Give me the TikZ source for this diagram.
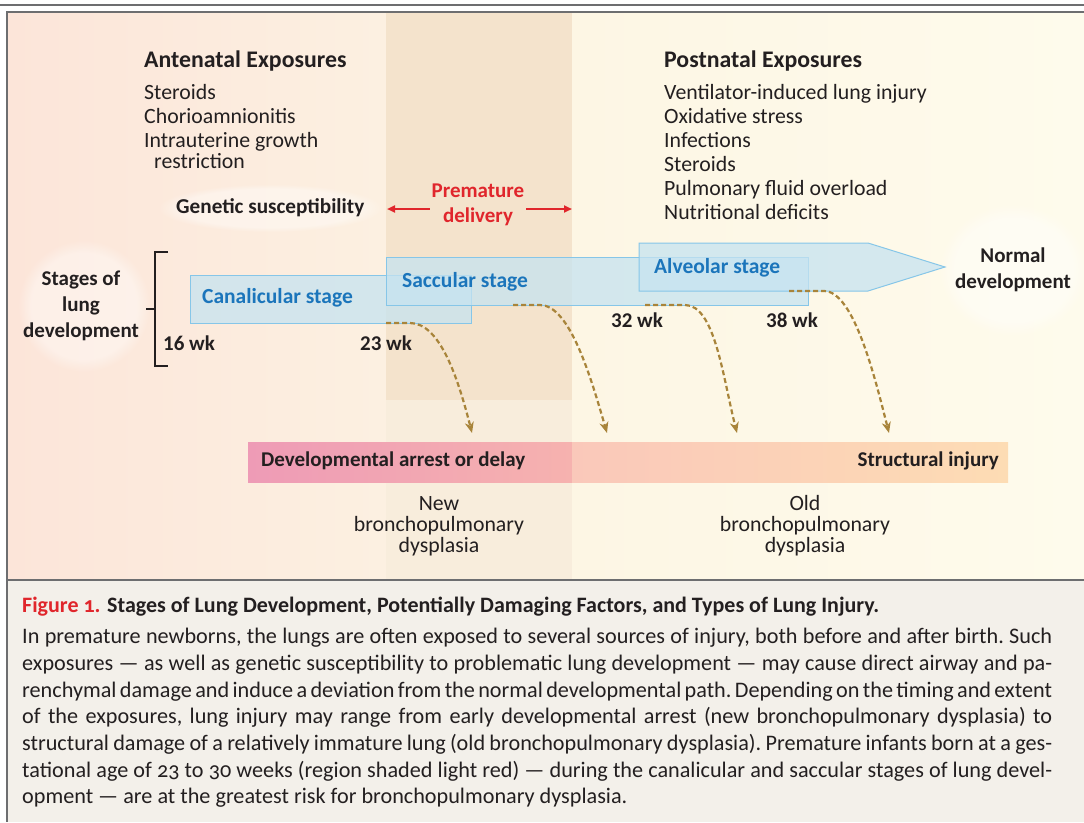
\documentclass[tikz,border=0pt]{standalone}
\usepackage{fontspec}
\setmainfont{Carlito}
\newfontfamily\capfont[Numbers=OldStyle]{Carlito}
\usetikzlibrary{arrows.meta,fadings}

\definecolor{ink}{HTML}{231F20}
\definecolor{rulegray}{HTML}{6D6E70}
\definecolor{peachL}{HTML}{FCE5D9}
\definecolor{peach}{HTML}{FCF0E1}
\definecolor{tanband}{HTML}{F4E3CC}
\definecolor{tanlight}{HTML}{F8EDDC}
\definecolor{cream}{HTML}{FDF6E4}
\definecolor{creamR}{HTML}{FEFBEC}
\definecolor{capbg}{HTML}{F3F0EA}
\definecolor{boxfill}{HTML}{C6E3F1}
\definecolor{boxline}{HTML}{86C6E8}
\definecolor{stageblue}{HTML}{1B75BB}
\definecolor{figred}{HTML}{E0262C}
\definecolor{injury}{HTML}{A8843A}
\definecolor{pinkL}{HTML}{EE9BB6}
\definecolor{pinkR}{HTML}{F6B2AF}
\definecolor{salmon}{HTML}{FAC8BA}
\definecolor{orangeR}{HTML}{FDDCB4}

\begin{document}
\begin{tikzpicture}[x=1pt, y=-1pt,
    headfont/.style={font=\bfseries\fontsize{23.8}{26}\selectfont, text=ink, inner sep=0},
    listfont/.style={font=\fontsize{21.8}{24}\selectfont, text=ink, inner sep=0, align=left},
    boldlabel/.style={font=\bfseries\fontsize{21}{25.5}\selectfont, text=ink, inner sep=0, align=center},
    weeklabel/.style={font=\bfseries\fontsize{21}{22}\selectfont, text=ink, inner sep=0, anchor=west},
    stagebox/.style={draw=boxline, fill=boxfill, fill opacity=0.75, line width=1pt},
    stagetext/.style={font=\bfseries\fontsize{21.5}{22}\selectfont, text=stageblue, inner sep=0, anchor=west},
    delarrow/.style={draw=figred, line width=2pt, -{Triangle[length=8pt, width=7pt]}},
    injurypath/.style={draw=injury, line width=2.2pt, dash pattern=on 5pt off 3pt,
      -{Stealth[length=11pt, width=9pt]}},
    glow/.style={fill=white, fill opacity=0.4, path fading=circle with fuzzy edge 20 percent}]
\useasboundingbox (0,0) rectangle (1084,822);

% Background
\fill[white] (0,0) rectangle (1084,822);
\draw[rulegray, line width=2.5pt] (0,5) -- (1084,5);
\shade[left color=peachL, right color=peach] (7,12) rectangle (386,580);
\fill[tanband] (386,12) rectangle (572,400);
\fill[tanlight] (386,400) rectangle (572,580);
\shade[left color=cream, right color=creamR] (572,12) rectangle (1084,580);
\fill[capbg] (7,580) rectangle (1084,822);
\draw[rulegray, line width=1.5pt] (1084,12) -- (7,12) -- (7,822);
\draw[rulegray, line width=2pt] (7,580) -- (1084,580);

% Glows
\fill[glow] (270,208) ellipse [x radius=112, y radius=24];
\fill[glow] (84,306) ellipse [x radius=66, y radius=66];
\fill[glow] (1013,270) ellipse [x radius=74, y radius=66];

% Exposures
\node[headfont, anchor=west] (ante) at (144,61) {Antenatal Exposures};
\node[listfont, anchor=north west] (antelist) at (144,84)
  {Steroids\\Chorioamnionitis\\Intrauterine growth\\[-3pt]\hspace{10pt}restriction};
\node[headfont, anchor=west] (post) at (664,61) {Postnatal Exposures};
\node[listfont, anchor=north west] (postlist) at (664,84)
  {Ventilator-induced lung injury\\Oxidative stress\\Infections\\Steroids\\
   Pulmonary fluid overload\\Nutritional deficits};
\node[boldlabel, font=\bfseries\fontsize{21.2}{22}\selectfont, anchor=west] (genetic) at (176,208)
  {Genetic susceptibility};

% Premature delivery
\node[boldlabel, text=figred] (prem) at (478,205) {Premature\\delivery};
\coordinate (bandL) at (387,209);
\coordinate (bandR) at (572,209);
\draw[delarrow] (prem.west |- bandL) ++(-2,0) -- (bandL);
\draw[delarrow] (prem.east |- bandR) ++(2,0) -- (bandR);

% Stages
\node[boldlabel, font=\bfseries\fontsize{21}{26}\selectfont] (stages) at (81,306) {Stages of\\lung\\development};
\draw[ink, line width=2pt] (168,252) -- (155,252) -- (155,366) -- (168,366);
\draw[ink, line width=2pt] (155,309) -- (146,309);

\path[stagebox] (190,275) rectangle (471,323);
\path[stagebox] (386,257) rectangle (808,305);
\path[stagebox] (639,243) -- (868,243) -- (945,267) -- (868,291) -- (639,291) -- cycle;
\node[stagetext] (canal) at (202,298) {Canalicular stage};
\node[stagetext] (saccu) at (402,282) {Saccular stage};
\node[stagetext] (alveo) at (654,268) {Alveolar stage};
\node[boldlabel] (normal) at (1013,270) {Normal\\development};

\node[weeklabel] (wk16) at (163,343) {16 wk};
\node[weeklabel] (wk23) at (360,343) {23 wk};
\node[weeklabel] (wk32) at (611,320) {32 wk};
\node[weeklabel] (wk38) at (766,320) {38 wk};

% Injury bar
\shade[left color=pinkL, right color=pinkR] (248,442) rectangle (572,482);
\shade[left color=salmon, right color=orangeR] (572,442) rectangle (1008,482);
\node[boldlabel, anchor=west] (arrest) at (261,461) {Developmental arrest or delay};
\node[boldlabel, anchor=east] (struct) at (999,461) {Structural injury};

% Injury paths
\coordinate (s1) at (386,323);
\coordinate (s2) at (513,305);
\coordinate (s3) at (645,305);
\coordinate (s4) at (789,291);
\coordinate (e1) at (472,433);
\coordinate (e2) at (607,433);
\coordinate (e3) at (737,433);
\coordinate (e4) at (889,433);
\draw[injurypath] (s1) -- ++(24,0) .. controls +(30,0) and +(-14,-55) .. (e1);
\draw[injurypath] (s2) -- ++(27,0) .. controls +(30,0) and +(-16,-55) .. (e2);
\draw[injurypath] (s3) -- ++(40,0) .. controls +(30,0) and +(-14,-55) .. (e3);
\draw[injurypath] (s4) -- ++(35,0) .. controls +(30,0) and +(-14,-55) .. (e4);

% BPD types
\node[listfont, align=center] (newbpd) at (439,526) {New\\[-3pt]bronchopulmonary\\[-3pt]dysplasia};
\node[listfont, align=center] (oldbpd) at (805,526) {Old\\[-3pt]bronchopulmonary\\[-3pt]dysplasia};

% Caption
\node[anchor=west, inner sep=0, font=\capfont\bfseries\fontsize{22}{24}\selectfont, text=ink] (title) at (22,607)
  {\textcolor{figred}{Figure 1.} Stages of Lung Development, Potentially Damaging Factors, and Types of Lung Injury.};
\node[anchor=north west, inner sep=0, text width=1030pt, align=justify, text=ink,
  font=\capfont\fontsize{22.2}{26.7}\selectfont] (body) at (22,628)
  {\tolerance=10000\hyphenpenalty=10000\frenchspacing
   In premature newborns, the lungs are often exposed to several sources of injury, both before and after birth. Such\linebreak
   exposures — as well as genetic susceptibility to problematic lung development — may cause direct airway and pa-\linebreak
   renchymal damage and induce a deviation from the normal developmental path. Depending on the timing and extent\linebreak
   of the exposures, lung injury may range from early developmental arrest (new bronchopulmonary dysplasia) to\linebreak
   structural damage of a relatively immature lung (old bronchopulmonary dysplasia). Premature infants born at a ges-\linebreak
   tational age of 23 to 30 weeks (region shaded light red) — during the canalicular and saccular stages of lung devel-\linebreak
   opment — are at the greatest risk for bronchopulmonary dysplasia.};
\end{tikzpicture}
\end{document}
